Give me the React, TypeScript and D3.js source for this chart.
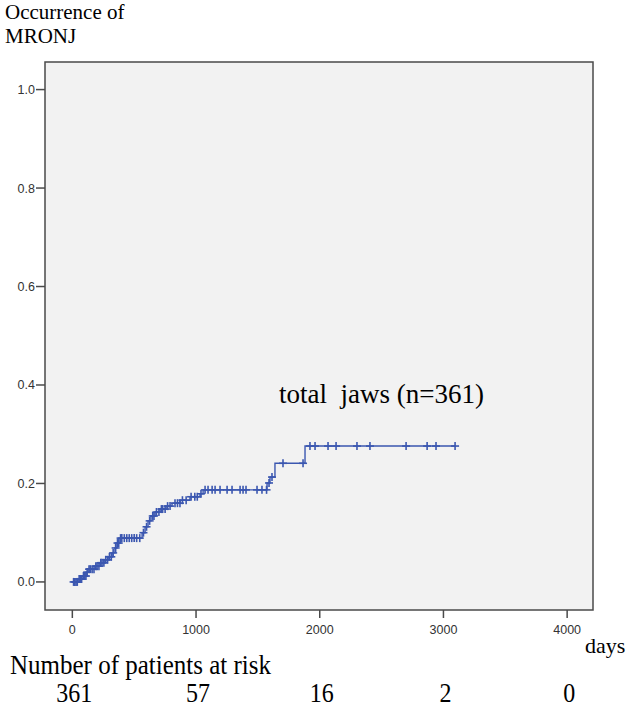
import React from "react";
import * as d3 from "d3";

// Cumulative incidence steps: [day, value]
const stepDays = [0, 46, 78, 111, 135, 184, 224, 256, 289, 321, 345, 361, 386, 564, 588, 612, 636, 669, 709, 758, 806, 871, 951, 1032, 1057, 1574, 1598, 1638, 1881];
const stepValues = [0, 0.006, 0.012, 0.02, 0.026, 0.032, 0.039, 0.045, 0.051, 0.059, 0.069, 0.079, 0.089, 0.1, 0.112, 0.124, 0.134, 0.142, 0.148, 0.154, 0.16, 0.166, 0.173, 0.179, 0.187, 0.201, 0.213, 0.241, 0.276];
const endDay = 3094;

const censorDays = [10, 20, 30, 40, 55, 65, 75, 90, 100, 110, 120, 135, 145, 160, 175, 190, 200, 215, 230, 240, 255, 270, 285, 300, 315, 330, 350, 365, 375, 390, 400, 420, 440, 460, 480, 500, 520, 545, 575, 600, 625, 650, 660, 680, 700, 720, 730, 750, 770, 790, 830, 850, 870, 890, 920, 960, 990, 1010, 1040, 1073, 1097, 1130, 1154, 1194, 1251, 1291, 1356, 1380, 1404, 1493, 1533, 1570, 1590, 1614, 1703, 1865, 1921, 1962, 2067, 2132, 2301, 2406, 2698, 2868, 2940, 3094];

const yTicks = [0, 0.2, 0.4, 0.6, 0.8, 1.0];
const xTicks = [0, 1000, 2000, 3000, 4000];
const atRiskDays = [0, 1000, 2000, 3000, 4000];
const atRiskCounts = ["361", "57", "16", "2", "0"];

const W = 629, H = 710;
const left = 45, right = 593, top = 62, bottom = 610;

export default function App() {
  const x = d3.scaleLinear().domain([-221, 4209]).range([left, right]);
  const y = d3.scaleLinear().domain([-0.057, 1.056]).range([bottom, top]);

  const pts: [number, number][] = stepDays.map((d, i) => [d, stepValues[i]]);
  pts.push([endDay, stepValues[stepValues.length - 1]]);
  const line = d3.line<[number, number]>().x(d => x(d[0])).y(d => y(d[1])).curve(d3.curveStepAfter);

  const valueAt = (t: number) => {
    let v = 0;
    for (let i = 0; i < stepDays.length; i++) if (stepDays[i] <= t) v = stepValues[i];
    return v;
  };

  const blue = "#3b57b0";
  const axisCol = "#4a4a4a";
  const serif = "'Liberation Serif', 'Times New Roman', serif";
  const sans = "'Liberation Sans', Arial, sans-serif";

  return (
    <svg width={W} height={H} style={{ position: "absolute", left: 0, top: 0, background: "#fff" }}>
      <rect x={0} y={0} width={W} height={H} fill="#fff" />
      <rect x={left} y={top} width={right - left} height={bottom - top} fill="#f2f2f2" stroke={axisCol} strokeWidth={1.5} />
      {yTicks.map(t => (
        <g key={t}>
          <line x1={left - 9} x2={left} y1={y(t)} y2={y(t)} stroke={axisCol} strokeWidth={1.5} />
          <text x={left - 10} y={y(t) + 4.5} textAnchor="end" fontFamily={sans} fontSize={12.5} fill="#333">{t.toFixed(1)}</text>
        </g>
      ))}
      {xTicks.map(t => (
        <g key={t}>
          <line x1={x(t)} x2={x(t)} y1={bottom} y2={bottom + 8} stroke={axisCol} strokeWidth={1.5} />
          <text x={x(t)} y={bottom + 24} textAnchor="middle" fontFamily={sans} fontSize={12.5} fill="#333">{t}</text>
        </g>
      ))}
      <path d={line(pts) || ""} fill="none" stroke={blue} strokeWidth={1.4} />
      {censorDays.map((c, i) => {
        const cx = x(c), cy = y(valueAt(c));
        return (
          <g key={i} stroke={blue} strokeWidth={1.6}>
            <line x1={cx - 4} x2={cx + 4} y1={cy} y2={cy} />
            <line x1={cx} x2={cx} y1={cy - 4} y2={cy + 4} />
          </g>
        );
      })}
      <text x={279} y={403} fontFamily={serif} fontSize={27} fill="#000" style={{ whiteSpace: "pre" }}>{"total  jaws (n=361)"}</text>
      <text x={5} y={19} fontFamily={serif} fontSize={21} fill="#000">Occurrence of</text>
      <text x={5} y={43} fontFamily={serif} fontSize={21} fill="#000">MRONJ</text>
      <text x={585} y={653} fontFamily={serif} fontSize={22} fill="#000">days</text>
      <text transform="translate(10,674) scale(1,1.12)" fontFamily={serif} fontSize={25} fill="#000">Number of patients at risk</text>
      {atRiskDays.map((d, i) => (
        <text key={i} transform={`translate(${x(d) + 2},702) scale(1,1.15)`} textAnchor="middle" fontFamily={serif} fontSize={24} fill="#000">{atRiskCounts[i]}</text>
      ))}
    </svg>
  );
}
